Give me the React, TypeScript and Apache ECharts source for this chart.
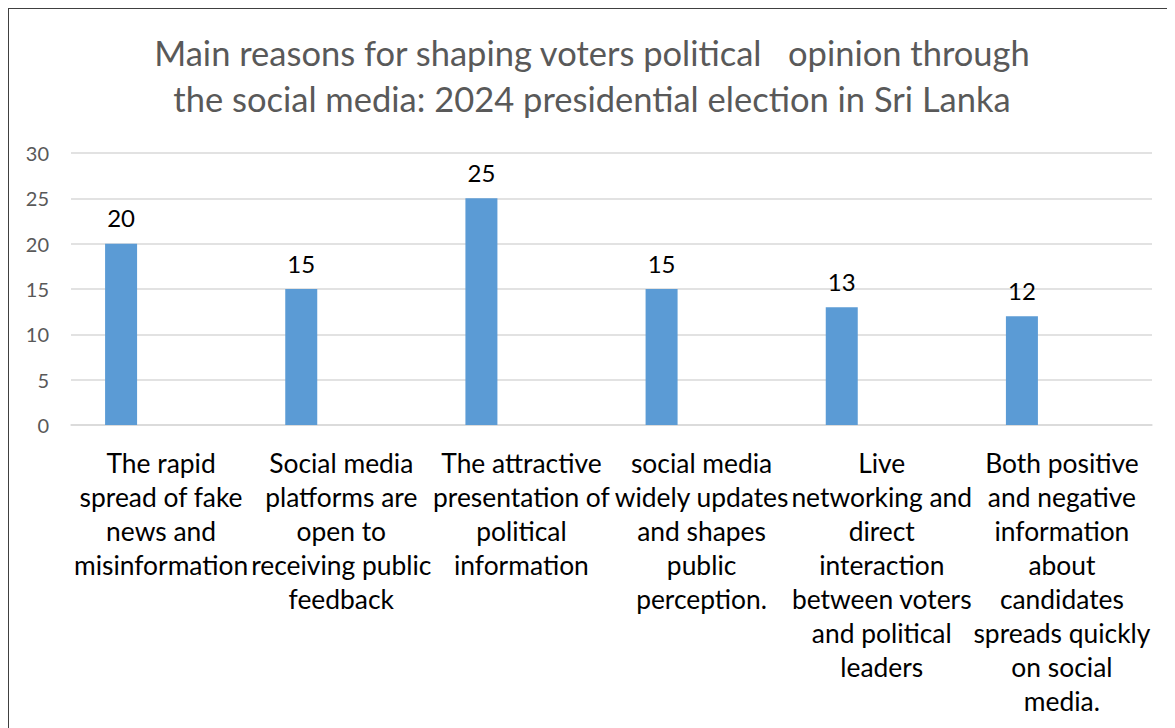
import React, { useEffect, useRef } from "react";
import * as echarts from "echarts";

const titleText =
  "Main reasons for shaping voters political   opinion through\nthe social media: 2024 presidential election in Sri Lanka";

const categories = [
  "The rapid\nspread of fake\nnews and\nmisinformation",
  "Social media\nplatforms are\nopen to\nreceiving public\nfeedback",
  "The attractive\npresentation of\npolitical\ninformation",
  "social media\nwidely updates\nand shapes\npublic\nperception.",
  "Live\nnetworking and\ndirect\ninteraction\nbetween voters\nand political\nleaders",
  "Both positive\nand negative\ninformation\nabout\ncandidates\nspreads quickly\non social\nmedia.",
];

const values = [20, 15, 25, 15, 13, 12];
const emptySeries = [null, null, null, null, null, null];

const FONT = "Lato, 'Noto Sans', sans-serif";

export default function App() {
  const ref = useRef<HTMLDivElement>(null);

  useEffect(() => {
    if (!ref.current) return;
    const chart = echarts.init(ref.current, undefined, { renderer: "svg" });
    chart.setOption({
      animation: false,
      backgroundColor: "#ffffff",
      title: {
        text: titleText,
        left: "center",
        top: 20,
        padding: 0,
        textStyle: {
          fontFamily: FONT,
          fontSize: 34.5,
          fontWeight: "normal",
          color: "#595959",
          lineHeight: 46,
        },
      },
      grid: { left: 62, right: 23, top: 144, bottom: 303, containLabel: false },
      xAxis: {
        type: "category",
        data: categories,
        axisLine: { show: true, lineStyle: { color: "#d9d9d9", width: 1.5 } },
        axisTick: { show: false },
        axisLabel: {
          interval: 0,
          margin: 21,
          fontFamily: FONT,
          fontSize: 26.4,
          lineHeight: 34,
          color: "#000000",
          align: "center",
        },
      },
      yAxis: {
        type: "value",
        min: 0,
        max: 30,
        interval: 5,
        axisLine: { show: false },
        axisTick: { show: false },
        splitLine: { lineStyle: { color: "#d9d9d9", width: 1.5 } },
        axisLabel: {
          margin: 22,
          fontFamily: FONT,
          fontSize: 20,
          color: "#595959",
        },
      },
      series: [
        {
          type: "bar",
          data: values,
          barWidth: 32,
          barGap: "150%",
          itemStyle: { color: "#5b9bd5" },
          label: {
            show: true,
            position: "top",
            distance: 14,
            fontFamily: FONT,
            fontSize: 24,
            color: "#000000",
          },
        },
        {
          type: "bar",
          data: emptySeries,
          barWidth: 32,
          itemStyle: { color: "#ed7d31" },
        },
      ],
    });
    return () => chart.dispose();
  }, []);

  return (
    <div
      style={{
        width: 1166,
        height: 719,
        borderTop: "1px solid #404040",
        borderLeft: "1px solid #404040",
        background: "#ffffff",
        overflow: "hidden",
      }}
    >
      <div ref={ref} style={{ width: 1166, height: 719 }} />
    </div>
  );
}
